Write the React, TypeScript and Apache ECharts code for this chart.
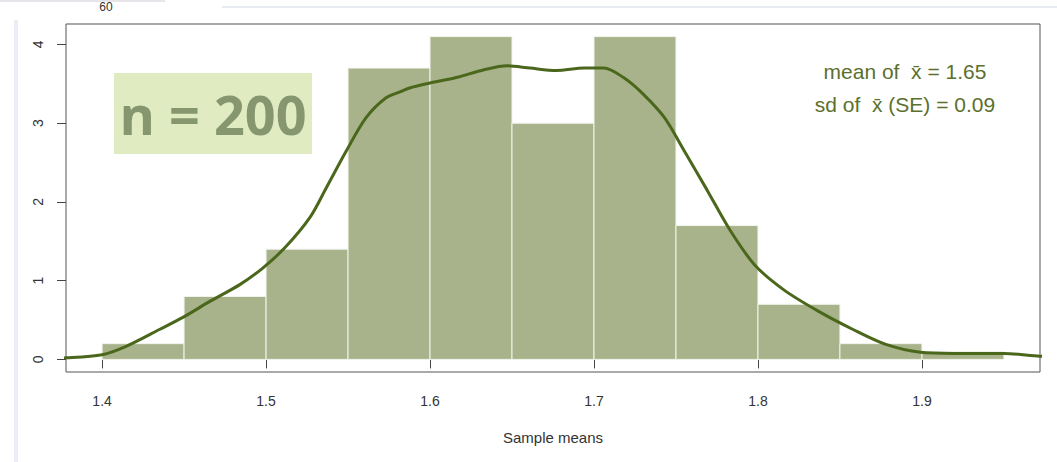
import React, { useEffect, useRef } from "react";
import * as echarts from "echarts";

// Histogram bins (start, end) and density heights
const binStarts = [1.40, 1.45, 1.50, 1.55, 1.60, 1.65, 1.70, 1.75, 1.80, 1.85, 1.90];
const binEnds = [1.45, 1.50, 1.55, 1.60, 1.65, 1.70, 1.75, 1.80, 1.85, 1.90, 1.95];
const binDensity = [0.2, 0.8, 1.4, 3.7, 4.1, 3.0, 4.1, 1.7, 0.7, 0.2, 0.1];

// Kernel density curve
const densityX = [
  1.36, 1.378, 1.40, 1.415, 1.435, 1.449, 1.466, 1.484, 1.498, 1.512, 1.527, 1.537,
  1.549, 1.561, 1.573, 1.582, 1.588, 1.60, 1.616, 1.633, 1.647, 1.661, 1.677, 1.694,
  1.706, 1.718, 1.730, 1.743, 1.755, 1.769, 1.783, 1.798, 1.816, 1.837, 1.858, 1.878,
  1.899, 1.919, 1.950, 1.972, 1.99,
];
const densityY = [
  0.01, 0.02, 0.06, 0.17, 0.38, 0.53, 0.74, 0.95, 1.16, 1.43, 1.81, 2.19,
  2.65, 3.07, 3.32, 3.40, 3.45, 3.51, 3.58, 3.68, 3.73, 3.70, 3.67, 3.70,
  3.70, 3.58, 3.37, 3.07, 2.65, 2.15, 1.64, 1.20, 0.88, 0.61, 0.38, 0.19,
  0.09, 0.076, 0.076, 0.04, 0.03,
];

const xTicks = [1.4, 1.5, 1.6, 1.7, 1.8, 1.9];
const yTicks = [0, 1, 2, 3, 4];

const sampleSize = "n = 200";
const meanText = "mean of  x\u0304 = 1.65";
const sdText = "sd of  x\u0304 (SE) = 0.09";
const xTitle = "Sample means";
const cutLabel = "60";

export default function App() {
  const ref = useRef<HTMLDivElement>(null);

  useEffect(() => {
    if (!ref.current) return;
    const chart = echarts.init(ref.current, null, { renderer: "svg" });

    const histData = binStarts.map((s, i) => [s, binEnds[i], binDensity[i]]);
    const lineData = densityX.map((x, i) => [x, densityY[i]]);

    chart.setOption({
      animation: false,
      backgroundColor: "#ffffff",
      grid: {
        left: 66,
        top: 24,
        width: 974,
        height: 348,
        show: true,
        borderColor: "#555555",
        borderWidth: 1,
        backgroundColor: "transparent",
      },
      xAxis: {
        type: "value",
        min: 1.378,
        max: 1.972,
        splitLine: { show: false },
        axisLine: { show: false },
        axisTick: {
          show: true,
          length: 9,
          customValues: xTicks,
          lineStyle: { color: "#444444", width: 1 },
        },
        axisLabel: {
          customValues: xTicks,
          margin: 22,
          fontSize: 14,
          color: "#333333",
          fontFamily: "Liberation Sans",
          formatter: (v: number) => v.toFixed(1),
        },
        name: xTitle,
        nameLocation: "middle",
        nameGap: 58,
        nameTextStyle: { fontSize: 15, color: "#333333", fontFamily: "Liberation Sans" },
      },
      yAxis: {
        type: "value",
        min: -0.16,
        max: 4.26,
        splitLine: { show: false },
        axisLine: { show: false },
        axisTick: {
          show: true,
          length: 9,
          customValues: yTicks,
          lineStyle: { color: "#444444", width: 1 },
        },
        axisLabel: {
          customValues: yTicks,
          rotate: 90,
          margin: 21,
          fontSize: 14,
          color: "#333333",
          fontFamily: "Liberation Sans",
        },
      },
      series: [
        {
          type: "custom",
          data: histData,
          encode: { x: [0, 1], y: 2 },
          clip: true,
          renderItem: (params: any, api: any) => {
            const p0 = api.coord([api.value(0), api.value(2)]);
            const p1 = api.coord([api.value(1), 0]);
            return {
              type: "rect",
              shape: { x: p0[0], y: p0[1], width: p1[0] - p0[0], height: p1[1] - p0[1] },
              style: { fill: "#a8b38b", stroke: "#f2f4ec", lineWidth: 1 },
            };
          },
          z: 1,
        },
        {
          type: "line",
          data: lineData,
          smooth: 0.3,
          showSymbol: false,
          clip: true,
          lineStyle: { color: "#4b671c", width: 3 },
          z: 3,
        },
      ],
      graphic: [
        { type: "rect", left: 0, top: 0, shape: { width: 165, height: 2 }, style: { fill: "#e6e6ea" }, silent: true },
        { type: "rect", left: 222, top: 6, shape: { width: 835, height: 2 }, style: { fill: "#e8ecf1" }, silent: true },
        { type: "rect", left: 14, top: 20, shape: { width: 4, height: 442 }, style: { fill: "#ececf6" }, silent: true },
        {
          type: "text",
          x: 106,
          y: 1,
          style: {
            text: cutLabel,
            fontSize: 12,
            fontFamily: "Liberation Sans",
            fill: "#333333",
            align: "center",
            verticalAlign: "top",
          },
          silent: true,
        },
        {
          type: "rect",
          x: 114,
          y: 73,
          shape: { width: 198, height: 81 },
          style: { fill: "#e1ebc1" },
          z: 10,
        },
        {
          type: "text",
          x: 213,
          y: 114,
          style: {
            text: sampleSize,
            fontSize: 54,
            fontWeight: "bold",
            fontFamily: "Open Sans",
            fill: "#86976f",
            align: "center",
            verticalAlign: "middle",
          },
          z: 11,
        },
        {
          type: "text",
          x: 905,
          y: 72,
          scaleX: 1.05,
          style: {
            text: meanText,
            fontSize: 20,
            fontFamily: "Liberation Sans",
            fill: "#5b702c",
            align: "center",
            verticalAlign: "middle",
          },
          z: 11,
        },
        {
          type: "text",
          x: 905,
          y: 105,
          scaleX: 1.05,
          style: {
            text: sdText,
            fontSize: 20,
            fontFamily: "Liberation Sans",
            fill: "#5b702c",
            align: "center",
            verticalAlign: "middle",
          },
          z: 11,
        },
      ],
    });

    return () => chart.dispose();
  }, []);

  return (
    <div
      ref={ref}
      style={{ position: "fixed", left: 0, top: 0, width: 1057, height: 462 }}
    />
  );
}
